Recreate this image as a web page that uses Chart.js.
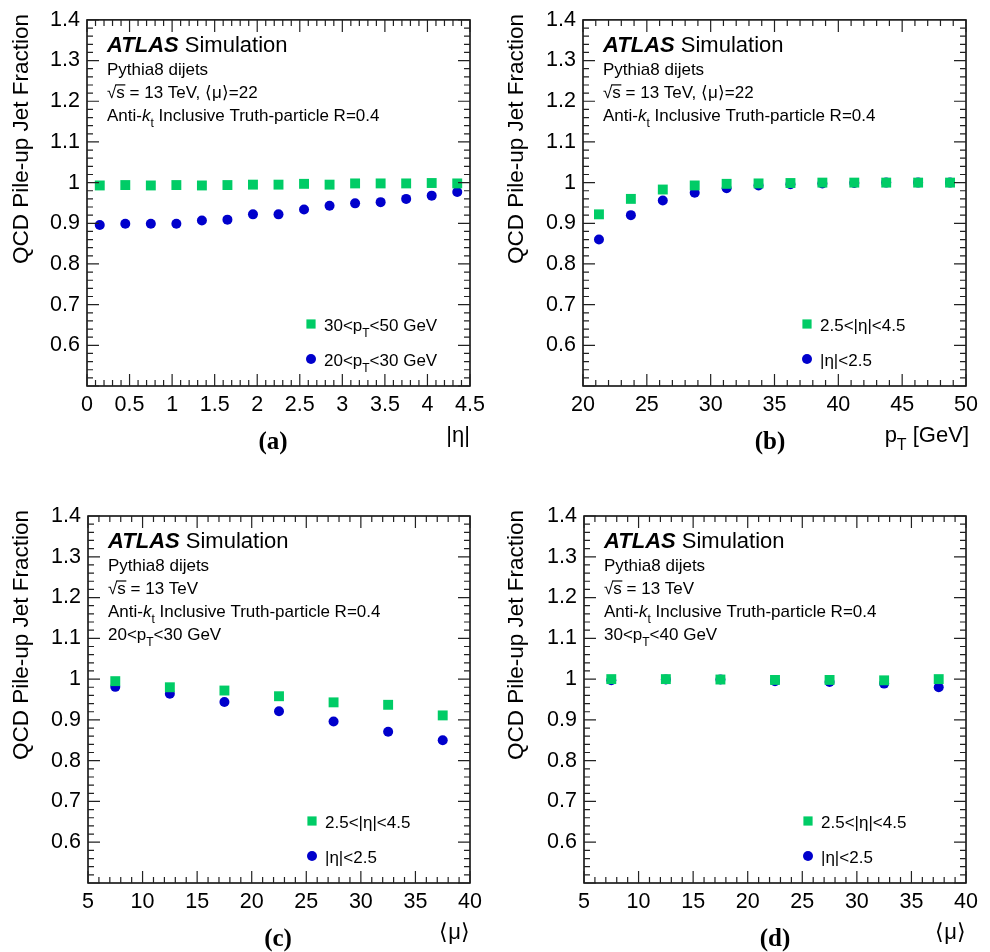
<!DOCTYPE html>
<html>
<head>
<meta charset="utf-8">
<script src="https://cdn.jsdelivr.net/npm/chart.js@4.4.0/dist/chart.umd.min.js"></script>
<style>
  html, body { margin: 0; padding: 0; background: #fff; }
  #page { position: relative; width: 990px; height: 952px; }
  .panel { position: absolute; width: 495px; height: 476px; }
</style>
</head>
<body>
<div id="page">
  <div class="panel" style="left:0;top:0"><canvas id="chartA"></canvas></div>
  <div class="panel" style="left:495px;top:0"><canvas id="chartB"></canvas></div>
  <div class="panel" style="left:0;top:476px"><canvas id="chartC"></canvas></div>
  <div class="panel" style="left:495px;top:476px"><canvas id="chartD"></canvas></div>
</div>
<script>
// ---- data ----
const yTickValues = [0.5, 0.6, 0.7, 0.8, 0.9, 1.0, 1.1, 1.2, 1.3, 1.4];
const yTickLabels = ['', '0.6', '0.7', '0.8', '0.9', '1', '1.1', '1.2', '1.3', '1.4'];

const etaTickValues = [0, 0.5, 1, 1.5, 2, 2.5, 3, 3.5, 4, 4.5];
const etaTickLabels = ['0', '0.5', '1', '1.5', '2', '2.5', '3', '3.5', '4', '4.5'];
const ptTickValues = [20, 25, 30, 35, 40, 45, 50];
const ptTickLabels = ['20', '25', '30', '35', '40', '45', '50'];
const muTickValues = [5, 10, 15, 20, 25, 30, 35, 40];
const muTickLabels = ['5', '10', '15', '20', '25', '30', '35', '40'];

// (a) vs |eta|
const etaBins = [0.15, 0.45, 0.75, 1.05, 1.35, 1.65, 1.95, 2.25, 2.55, 2.85, 3.15, 3.45, 3.75, 4.05, 4.35];
const etaFracPt30to50 = [0.993, 0.994, 0.993, 0.994, 0.993, 0.994, 0.995, 0.995, 0.997, 0.995, 0.998, 0.998, 0.998, 0.999, 0.998];
const etaFracPt20to30 = [0.896, 0.899, 0.899, 0.899, 0.907, 0.909, 0.922, 0.922, 0.934, 0.943, 0.949, 0.952, 0.960, 0.968, 0.977];

// (b) vs pT
const ptBins = [21.25, 23.75, 26.25, 28.75, 31.25, 33.75, 36.25, 38.75, 41.25, 43.75, 46.25, 48.75];
const ptFracForward = [0.922, 0.960, 0.983, 0.993, 0.997, 0.998, 0.999, 1.0, 1.0, 1.0, 1.0, 1.0];
const ptFracCentral = [0.860, 0.920, 0.956, 0.975, 0.986, 0.993, 0.996, 0.998, 0.999, 1.0, 1.0, 1.0];

// (c), (d) vs <mu>
const muBins = [7.5, 12.5, 17.5, 22.5, 27.5, 32.5, 37.5];
const muFracForwardLowPt = [0.995, 0.980, 0.972, 0.958, 0.943, 0.937, 0.911];
const muFracCentralLowPt = [0.981, 0.964, 0.944, 0.921, 0.896, 0.871, 0.850];
const muFracForwardHighPt = [1.0, 1.0, 0.999, 0.998, 0.998, 0.997, 1.0];
const muFracCentralHighPt = [0.997, 0.999, 0.999, 0.995, 0.993, 0.989, 0.980];

// ---- styling ----
const SANS = '"Liberation Sans", Arial, Helvetica, sans-serif';
const SERIF = '"Liberation Serif", "Times New Roman", serif';
const GREEN = '#00cc66';
const BLUE = '#0000cc';
const PLOT_H = 367;

Chart.defaults.font.family = SANS;
Chart.defaults.color = '#000';

// draws text made of segments: ['text', style] with style '', 'bi', 'i', 'sub', 'bar'
function richText(ctx, x, y, parts, size, draw = true) {
  let cx = x;
  ctx.textAlign = 'left';
  ctx.textBaseline = 'alphabetic';
  parts.forEach(([t, s = '']) => {
    const sub = s === 'sub';
    const fs = sub ? Math.round(size * 0.72) : size;
    const pre = s === 'bi' ? 'italic bold ' : s === 'i' ? 'italic ' : '';
    ctx.font = pre + fs + 'px ' + SANS;
    const w = ctx.measureText(t).width;
    if (draw) {
      ctx.fillText(t, cx, y + (sub ? size * 0.35 : 0));
      if (s === 'bar') ctx.fillRect(cx - 1, y - size * 0.8, w + 1.5, 1.2);
    }
    cx += w;
  });
  return cx - x;
}

function panelDecor(cfg) {
  return {
    id: 'panelDecor',
    afterDraw(chart) {
      const ctx = chart.ctx;
      const a = chart.chartArea;
      const xs = chart.scales.x, ys = chart.scales.y;
      ctx.save();

      // frame
      ctx.strokeStyle = '#000';
      ctx.lineWidth = 1.5;
      ctx.strokeRect(a.left, a.top, a.right - a.left, a.bottom - a.top);

      // inward ticks on all four sides
      ctx.strokeStyle = '#222';
      ctx.lineWidth = 1.2;
      const isMajor = (v, min, step) => Math.abs((v - min) / step - Math.round((v - min) / step)) < 1e-6;
      const nx = Math.round((xs.max - xs.min) / cfg.xMinor);
      for (let i = 0; i <= nx; i++) {
        const v = xs.min + i * cfg.xMinor;
        const px = xs.getPixelForValue(v);
        const len = isMajor(v, xs.min, cfg.xMajor) ? 12 : 6;
        ctx.beginPath();
        ctx.moveTo(px, a.bottom); ctx.lineTo(px, a.bottom - len);
        ctx.moveTo(px, a.top); ctx.lineTo(px, a.top + len);
        ctx.stroke();
      }
      const ny = Math.round((ys.max - ys.min) / 0.02);
      for (let i = 0; i <= ny; i++) {
        const v = ys.min + i * 0.02;
        const py = ys.getPixelForValue(v);
        const len = isMajor(v, ys.min, 0.1) ? 12 : 6;
        ctx.beginPath();
        ctx.moveTo(a.left, py); ctx.lineTo(a.left + len, py);
        ctx.moveTo(a.right, py); ctx.lineTo(a.right - len, py);
        ctx.stroke();
      }

      ctx.fillStyle = '#000';

      // y axis title, aligned to the top
      ctx.save();
      ctx.translate(22, a.top - 6);
      ctx.rotate(-Math.PI / 2);
      ctx.font = '22.5px ' + SANS;
      ctx.textAlign = 'right';
      ctx.textBaseline = 'middle';
      ctx.fillText('QCD Pile-up Jet Fraction', 0, 0);
      ctx.restore();

      // ATLAS label and info lines
      const tx = a.left + 20;
      richText(ctx, tx, a.top + 32, [['ATLAS', 'bi'], [' Simulation']], 22);
      cfg.info.forEach((parts, i) => richText(ctx, tx, a.top + 55 + i * 23, parts, 17));

      // legend
      cfg.legend.forEach((item, i) => {
        const my = a.bottom - 62 + i * 35;
        const mx = a.left + 224;
        ctx.fillStyle = item.color;
        Chart.helpers.drawPoint(ctx, { pointStyle: item.style, radius: item.r, borderWidth: 0, rotation: 0 }, mx, my);
        ctx.fillStyle = '#000';
        richText(ctx, mx + 13, my + 7, item.label, 17);
      });

      // x axis title, right aligned
      const w = richText(ctx, 0, 0, cfg.xTitle, 22, false);
      richText(ctx, a.right + cfg.xTitleShift - w, a.bottom + 56, cfg.xTitle, 22);

      // panel letter
      ctx.font = 'bold 25px ' + SERIF;
      ctx.textAlign = 'center';
      ctx.textBaseline = 'alphabetic';
      ctx.fillText(cfg.letter, cfg.letterX, a.bottom + 63);

      ctx.restore();
    }
  };
}

function toPoints(xs, ys) {
  return xs.map((x, i) => ({ x: x, y: ys[i] }));
}

function makePanel(id, cfg) {
  const datasets = [
    { label: 'forward', data: toPoints(cfg.xBins, cfg.green), pointStyle: 'rect', pointRadius: 7,
      pointBackgroundColor: GREEN, pointBorderWidth: 0, showLine: false },
    { label: 'central', data: toPoints(cfg.xBins, cfg.blue), pointStyle: 'circle', pointRadius: 5,
      pointBackgroundColor: BLUE, pointBorderWidth: 0, showLine: false }
  ];
  new Chart(document.getElementById(id), {
    type: 'scatter',
    data: { datasets: datasets },
    options: {
      responsive: true,
      maintainAspectRatio: false,
      animation: false,
      events: [],
      layout: { autoPadding: false, padding: { top: cfg.top, right: cfg.right, left: 0, bottom: 0 } },
      plugins: { legend: { display: false }, tooltip: { enabled: false } },
      scales: {
        x: {
          type: 'linear',
          min: cfg.xTicks[0],
          max: cfg.xTicks[cfg.xTicks.length - 1],
          afterBuildTicks: s => { s.ticks = cfg.xTicks.map(v => ({ value: v })); },
          afterFit: s => { s.height = 476 - cfg.top - PLOT_H; },
          grid: { display: false, drawTicks: false },
          border: { display: false },
          ticks: {
            autoSkip: false, maxRotation: 0, padding: 6,
            font: { size: 21.5 },
            callback: (v, i) => cfg.xLabels[i]
          }
        },
        y: {
          type: 'linear',
          min: 0.5,
          max: 1.4,
          afterBuildTicks: s => { s.ticks = yTickValues.map(v => ({ value: v })); },
          afterFit: s => { s.width = cfg.left; },
          grid: { display: false, drawTicks: false },
          border: { display: false },
          ticks: {
            autoSkip: false, padding: 7,
            font: { size: 21.5 },
            callback: (v, i) => yTickLabels[i]
          }
        }
      }
    },
    plugins: [panelDecor(cfg)]
  });
}

const sqrtS = [['√'], ['s', 'bar']];
const antiKt = [['Anti-'], ['k', 'i'], ['t', 'sub'], [' Inclusive Truth-particle R=0.4']];
const legForward = [['2.5<|η|<4.5']];
const legCentral = [['|η|<2.5']];

makePanel('chartA', {
  top: 19, left: 87, right: 25,
  xTicks: etaTickValues, xLabels: etaTickLabels, xMajor: 0.5, xMinor: 0.1,
  xBins: etaBins, green: etaFracPt30to50, blue: etaFracPt20to30,
  info: [[['Pythia8 dijets']], sqrtS.concat([[' = 13 TeV, ⟨μ⟩=22']]), antiKt],
  legend: [
    { color: GREEN, style: 'rect', r: 6.5, label: [['30<p'], ['T', 'sub'], ['<50 GeV']] },
    { color: BLUE, style: 'circle', r: 5, label: [['20<p'], ['T', 'sub'], ['<30 GeV']] }
  ],
  xTitle: [['|η|']], xTitleShift: 0, letter: '(a)', letterX: 273
});

makePanel('chartB', {
  top: 19, left: 88, right: 24,
  xTicks: ptTickValues, xLabels: ptTickLabels, xMajor: 5, xMinor: 1,
  xBins: ptBins, green: ptFracForward, blue: ptFracCentral,
  info: [[['Pythia8 dijets']], sqrtS.concat([[' = 13 TeV, ⟨μ⟩=22']]), antiKt],
  legend: [
    { color: GREEN, style: 'rect', r: 6.5, label: legForward },
    { color: BLUE, style: 'circle', r: 5, label: legCentral }
  ],
  xTitle: [['p'], ['T', 'sub'], [' [GeV]']], xTitleShift: 3, letter: '(b)', letterX: 275
});

makePanel('chartC', {
  top: 40, left: 88, right: 25,
  xTicks: muTickValues, xLabels: muTickLabels, xMajor: 5, xMinor: 1,
  xBins: muBins, green: muFracForwardLowPt, blue: muFracCentralLowPt,
  info: [[['Pythia8 dijets']], sqrtS.concat([[' = 13 TeV']]), antiKt, [['20<p'], ['T', 'sub'], ['<30 GeV']]],
  legend: [
    { color: GREEN, style: 'rect', r: 6.5, label: legForward },
    { color: BLUE, style: 'circle', r: 5, label: legCentral }
  ],
  xTitle: [['⟨μ⟩']], xTitleShift: 0, letter: '(c)', letterX: 278
});

makePanel('chartD', {
  top: 40, left: 89, right: 24,
  xTicks: muTickValues, xLabels: muTickLabels, xMajor: 5, xMinor: 1,
  xBins: muBins, green: muFracForwardHighPt, blue: muFracCentralHighPt,
  info: [[['Pythia8 dijets']], sqrtS.concat([[' = 13 TeV']]), antiKt, [['30<p'], ['T', 'sub'], ['<40 GeV']]],
  legend: [
    { color: GREEN, style: 'rect', r: 6.5, label: legForward },
    { color: BLUE, style: 'circle', r: 5, label: legCentral }
  ],
  xTitle: [['⟨μ⟩']], xTitleShift: 0, letter: '(d)', letterX: 280
});
</script>
</body>
</html>
